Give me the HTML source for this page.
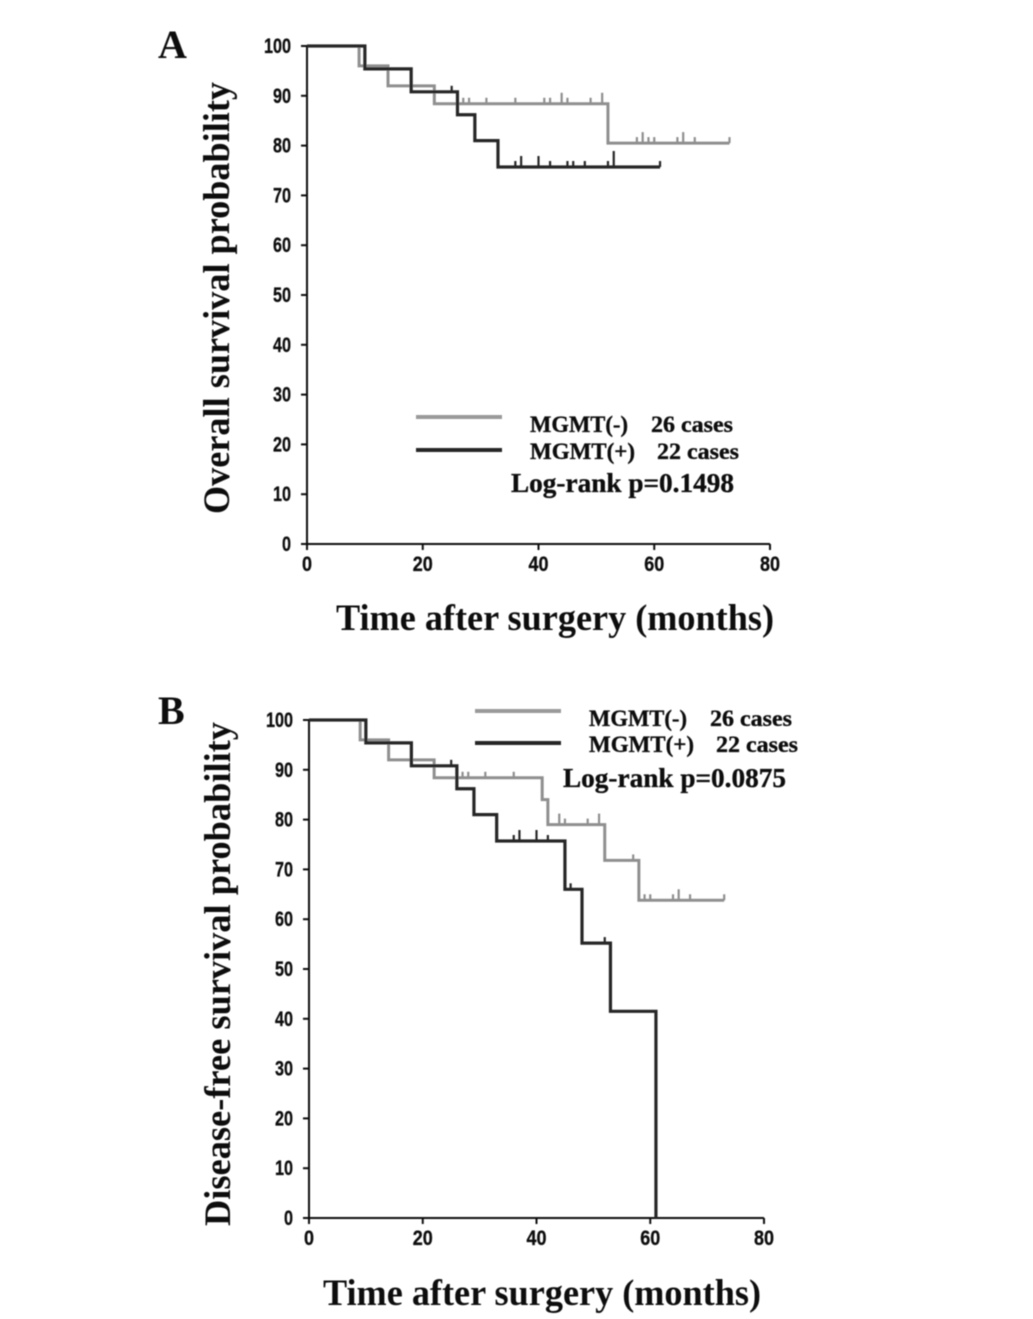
<!DOCTYPE html>
<html lang="en">
<head>
<meta charset="utf-8">
<title>Survival curves by MGMT status</title>
<style>
html,body{margin:0;padding:0;background:#fff;width:1033px;height:1319px;overflow:hidden}
svg{display:block}
.serif{font-family:"Liberation Serif",serif;font-weight:bold;fill:#111}
.heavy{stroke:#111;stroke-width:0.35px}
.sans{font-family:"Liberation Sans",sans-serif;font-weight:bold;fill:#111;stroke:#111;stroke-width:0.3px}
</style>
</head>
<body>
<svg id="figure" xmlns="http://www.w3.org/2000/svg" width="1033" height="1319" viewBox="0 0 1033 1319">
  <defs><filter id="soft" x="-5%" y="-5%" width="110%" height="110%"><feGaussianBlur stdDeviation="0.4"/></filter></defs>
  <g id="plots" filter="url(#soft)"></g>
</svg>
<script>
// Shared axis tick labels
const yTicks = [0, 10, 20, 30, 40, 50, 60, 70, 80, 90, 100];
const xTicks = [0, 20, 40, 60, 80];

// Panel A: overall survival (step times in months, survival in %)
const aNegTimes = [0, 9, 14, 22, 52, 73];
const aNegSurv = [100, 96, 92, 88.4, 80.5, 80.5];
const aNegCensor = [27, 28, 31, 36, 41, 42, 44, 44, 45, 49, 51, 51, 57, 58, 58, 59, 60, 64, 65, 65, 67, 73];
const aPosTimes = [0, 10, 18, 26, 29, 33, 61];
const aPosSurv = [100, 95.4, 90.8, 86.2, 81, 75.7, 75.7];
const aPosCensor = [25, 36, 37, 37, 40, 40, 42, 45, 46, 48, 52, 53, 53, 53, 61];

// Panel B: disease-free survival
const bNegTimes = [0, 9, 14, 22, 41, 42, 52, 58, 73];
const bNegSurv = [100, 96, 92, 88.4, 84, 79, 71.8, 63.8, 63.8];
const bNegCensor = [27, 28, 31, 36, 44, 44, 45, 49, 51, 51, 57, 59, 60, 64, 65, 65, 67, 73];
const bPosTimes = [0, 10, 18, 26, 29, 33, 45, 48, 53, 61, 61];
const bPosSurv = [100, 95.4, 90.8, 86.2, 81, 75.7, 66, 55.2, 41.5, 0, 0];
const bPosCensor = [25, 36, 37, 37, 40, 40, 42, 46, 52];

const NS = 'http://www.w3.org/2000/svg';
const root = document.getElementById('plots');
const GREY = '#8f8f8f', DARK = '#262626';

function make(parent, tag, attrs, text) {
  const el = document.createElementNS(NS, tag);
  for (const k in attrs) el.setAttribute(k, attrs[k]);
  if (text !== undefined) el.textContent = text;
  parent.appendChild(el);
  return el;
}

function survivalAt(times, surv, t) {
  let v = surv[0];
  for (let i = 0; i < times.length; i++) if (times[i] <= t) v = surv[i];
  return v;
}

function drawSeries(g, name, times, surv, censor, color, width, X, Y) {
  let d = 'M' + X(times[0]) + ' ' + Y(surv[0]);
  for (let i = 1; i < times.length; i++) {
    d += 'H' + X(times[i]) + 'V' + Y(surv[i]);
  }
  const line = make(g, 'path', {d: d, fill: 'none', stroke: color, 'stroke-width': width});
  
  
  const counts = new Map();
  censor.forEach(t => counts.set(t, (counts.get(t) || 0) + 1));
  counts.forEach((n, t) => {
    const y = Y(survivalAt(times, surv, t));
    const tick = make(g, 'line', {x1: X(t), x2: X(t), y1: y, y2: y - (1 + n * 5), stroke: color, 'stroke-width': 2.2});
    
    
  });
}

function drawPanel(p) {
  const X = v => p.x0 + v * (p.x80 - p.x0) / 80;
  const Y = v => p.y0 + v * (p.y100 - p.y0) / 100;
  const g = make(root, 'g', {});
  
  

  const letter = make(g, 'text', {x: p.letterX, y: p.letterY, 'font-size': 40, class: 'serif'}, p.letter);
  
  

  const yAxis = make(g, 'line', {x1: X(0), x2: X(0), y1: Y(100), y2: Y(0) + 6, stroke: '#111', 'stroke-width': 2});
  
  
  const xAxis = make(g, 'line', {x1: X(0) - 6, x2: X(80), y1: Y(0), y2: Y(0), stroke: '#111', 'stroke-width': 2});
  
  

  yTicks.forEach(v => {
    make(g, 'line', {x1: X(0) - 6, x2: X(0), y1: Y(v), y2: Y(v), stroke: '#111', 'stroke-width': 2});
    const s = String(v);
    const lab = make(g, 'text', {x: X(0) - 16 - s.length * 9, y: Y(v) + 7, 'font-size': 21, class: 'sans', textLength: s.length * 9, lengthAdjust: 'spacingAndGlyphs'}, s);
    
    
  });
  xTicks.forEach(v => {
    make(g, 'line', {x1: X(v), x2: X(v), y1: Y(0), y2: Y(0) + 6, stroke: '#111', 'stroke-width': 2});
    const s = String(v);
    const w = s.length * 10;
    const lab = make(g, 'text', {x: X(v) - w / 2, y: Y(0) + 27, 'font-size': 21, class: 'sans', textLength: w, lengthAdjust: 'spacingAndGlyphs'}, s);
    
    
  });

  const yt = make(g, 'text', {transform: 'translate(' + p.yTitleX + ' ' + p.yTitleY + ') rotate(-90)', 'font-size': 37, class: 'serif', textLength: p.yTitleLen, lengthAdjust: 'spacingAndGlyphs'}, p.yTitle);
  
  
  const xt = make(g, 'text', {x: p.xTitleX, y: p.xTitleY, 'font-size': 37, class: 'serif', textLength: p.xTitleLen, lengthAdjust: 'spacingAndGlyphs'}, 'Time after surgery (months)');
  
  

  drawSeries(g, p.id + '-mgmt-negative', p.negT, p.negS, p.negC, GREY, 3, X, Y);
  drawSeries(g, p.id + '-mgmt-positive', p.posT, p.posS, p.posC, DARK, 3.2, X, Y);

  const L = p.legend;
  const k1 = make(g, 'line', {x1: L.x, x2: L.x + 86, y1: L.y1, y2: L.y1, stroke: '#9a9a9a', 'stroke-width': 4});
  
  
  const k2 = make(g, 'line', {x1: L.x, x2: L.x + 86, y1: L.y2, y2: L.y2, stroke: DARK, 'stroke-width': 4});
  
  

  const fit = {'font-size': 23, class: 'serif heavy', lengthAdjust: 'spacingAndGlyphs'};
  const t1 = make(g, 'text', Object.assign({x: L.x + 114, y: L.y1 + 15, textLength: 98}, fit), 'MGMT(-)');
  
  
  const c1 = make(g, 'text', Object.assign({x: L.x + 235, y: L.y1 + 15, textLength: 82}, fit), '26 cases');
  
  
  const t2 = make(g, 'text', Object.assign({x: L.x + 114, y: L.y2 + 9, textLength: 105}, fit), 'MGMT(+)');
  
  
  const c2 = make(g, 'text', Object.assign({x: L.x + 241, y: L.y2 + 9, textLength: 82}, fit), '22 cases');
  
  
  const t3 = make(g, 'text', {x: p.pX, y: p.pY, 'font-size': 27, class: 'serif heavy', textLength: 223, lengthAdjust: 'spacingAndGlyphs'}, p.pText);
  
  
}

drawPanel({
  id: 'panel-a', letter: 'A', letterX: 158, letterY: 58,
  x0: 307, x80: 770, y0: 544, y100: 46,
  yTitle: 'Overall survival probability', yTitleX: 229, yTitleY: 514, yTitleLen: 432,
  xTitleX: 336, xTitleY: 630, xTitleLen: 438,
  negT: aNegTimes, negS: aNegSurv, negC: aNegCensor,
  posT: aPosTimes, posS: aPosSurv, posC: aPosCensor,
  legend: {x: 416, y1: 417, y2: 450}, pText: 'Log-rank p=0.1498', pX: 511, pY: 492
});
drawPanel({
  id: 'panel-b', letter: 'B', letterX: 158, letterY: 724,
  x0: 309, x80: 764, y0: 1218, y100: 720,
  yTitle: 'Disease-free survival probability', yTitleX: 230, yTitleY: 1226, yTitleLen: 504,
  xTitleX: 323, xTitleY: 1305, xTitleLen: 438,
  negT: bNegTimes, negS: bNegSurv, negC: bNegCensor,
  posT: bPosTimes, posS: bPosSurv, posC: bPosCensor,
  legend: {x: 475, y1: 711, y2: 743}, pText: 'Log-rank p=0.0875', pX: 563, pY: 787
});
</script>
</body>
</html>
